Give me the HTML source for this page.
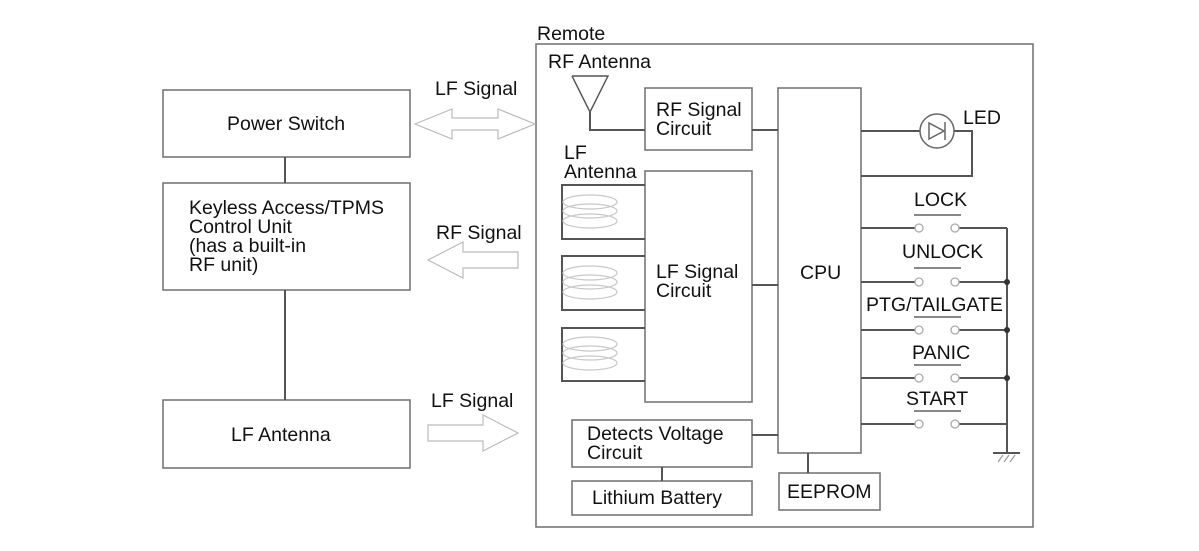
<!DOCTYPE html>
<html><head><meta charset="utf-8"><style>
body{margin:0;background:#fff}
svg{display:block}
text{font-family:"Liberation Sans",Arial,sans-serif;font-size:19.5px;fill:#111}
</style></head><body>
<svg width="1199" height="551" viewBox="0 0 1199 551" xmlns="http://www.w3.org/2000/svg">
<g fill="none" stroke="#777" stroke-width="1.6">
<rect x="163" y="90" width="247" height="67"/>
<rect x="163" y="183" width="247" height="107"/>
<rect x="163" y="400" width="247" height="68"/>
<rect x="536" y="44" width="497" height="483"/>
<rect x="645" y="88" width="107" height="62"/>
<rect x="645" y="171" width="107" height="231"/>
<rect x="778" y="88" width="83" height="365"/>
<rect x="572" y="420" width="180" height="47"/>
<rect x="572" y="481" width="180" height="34"/>
<rect x="779" y="473" width="101" height="37"/>
</g>
<g fill="none" stroke="#555" stroke-width="2">
<line x1="285" y1="157" x2="285" y2="183"/>
<line x1="285" y1="290" x2="285" y2="400"/>
<polyline points="572,76 590,112 608,76 572,76" stroke-width="1.4"/>
<polyline points="590,112 590,130 645,130"/>
<line x1="752" y1="130" x2="778" y2="130"/>
<line x1="752" y1="285" x2="778" y2="285"/>
<line x1="752" y1="435" x2="778" y2="435"/>
<line x1="662" y1="467" x2="662" y2="481"/>
<line x1="808" y1="453" x2="808" y2="473"/>
<polyline points="645,185 562,185 562,239 645,239"/>
<polyline points="645,256 562,256 562,310 645,310"/>
<polyline points="645,328 562,328 562,381 645,381"/>
<polyline points="861,131 920,131"/>
<polyline points="954,131 972,131 972,176 861,176"/>
<line x1="861" y1="228" x2="915" y2="228"/>
<line x1="959" y1="228" x2="1007" y2="228"/>
<line x1="861" y1="282" x2="915" y2="282"/>
<line x1="959" y1="282" x2="1007" y2="282"/>
<line x1="861" y1="330" x2="915" y2="330"/>
<line x1="959" y1="330" x2="1007" y2="330"/>
<line x1="861" y1="378" x2="915" y2="378"/>
<line x1="959" y1="378" x2="1007" y2="378"/>
<line x1="861" y1="424" x2="915" y2="424"/>
<line x1="959" y1="424" x2="1007" y2="424"/>
<line x1="1007" y1="228" x2="1007" y2="453"/>
<line x1="993" y1="453" x2="1020" y2="453"/>
</g>
<g stroke="#999" stroke-width="1.2">
<line x1="998" y1="462" x2="1003" y2="455"/><line x1="1004" y1="462" x2="1009" y2="455"/><line x1="1010" y1="462" x2="1015" y2="455"/>
</g>
<g fill="#333"><circle cx="1007" cy="282" r="3"/><circle cx="1007" cy="330" r="3"/><circle cx="1007" cy="378" r="3"/></g>
<g fill="none" stroke="#666" stroke-width="1.5">
<circle cx="937" cy="131" r="17"/>
<polygon points="929,123 929,139 944,131"/>
<line x1="945" y1="122" x2="945" y2="140"/>
</g>
<g fill="#fff" stroke="#aaa" stroke-width="1.3">
<circle cx="919" cy="228" r="4"/><circle cx="955" cy="228" r="4"/>
<circle cx="919" cy="282" r="4"/><circle cx="955" cy="282" r="4"/>
<circle cx="919" cy="330" r="4"/><circle cx="955" cy="330" r="4"/>
<circle cx="919" cy="378" r="4"/><circle cx="955" cy="378" r="4"/>
<circle cx="919" cy="424" r="4"/><circle cx="955" cy="424" r="4"/>
</g>
<g stroke="#888" stroke-width="2">
<line x1="914" y1="215" x2="961" y2="215"/>
<line x1="914" y1="268" x2="961" y2="268"/>
<line x1="914" y1="317" x2="961" y2="317"/>
<line x1="914" y1="365" x2="961" y2="365"/>
<line x1="914" y1="411" x2="961" y2="411"/>
</g>
<g fill="none" stroke="#bbb" stroke-width="1.2">
<polygon points="415,124 452,109 452,118 498,118 498,109 535,124 498,139 498,130 452,130 452,139"/>
<polygon points="428,260 463,242 463,252 518,252 518,268 463,268 463,278"/>
<polygon points="428,425 483,425 483,415 518,433 483,451 483,441 428,441"/>
<g stroke="#c8c8c8">
<ellipse cx="590" cy="202" rx="27" ry="7"/><ellipse cx="590" cy="211" rx="27" ry="7"/><ellipse cx="590" cy="221" rx="27" ry="7"/>
<ellipse cx="590" cy="273" rx="27" ry="7"/><ellipse cx="590" cy="282" rx="27" ry="7"/><ellipse cx="590" cy="292" rx="27" ry="7"/>
<ellipse cx="590" cy="344" rx="27" ry="7"/><ellipse cx="590" cy="353" rx="27" ry="7"/><ellipse cx="590" cy="363" rx="27" ry="7"/>
</g>
</g>
<text x="227" y="130">Power Switch</text>
<text x="189" y="214">Keyless Access/TPMS</text>
<text x="189" y="233">Control Unit</text>
<text x="189" y="252">(has a built-in</text>
<text x="189" y="271">RF unit)</text>
<text x="231" y="441">LF Antenna</text>
<text x="435" y="95">LF Signal</text>
<text x="436" y="239">RF Signal</text>
<text x="431" y="407">LF Signal</text>
<text x="537" y="40">Remote</text>
<text x="548" y="68">RF Antenna</text>
<text x="656" y="116">RF Signal</text>
<text x="656" y="135">Circuit</text>
<text x="564" y="159">LF</text>
<text x="564" y="178">Antenna</text>
<text x="656" y="278">LF Signal</text>
<text x="656" y="297">Circuit</text>
<text x="800" y="279">CPU</text>
<text x="587" y="440">Detects Voltage</text>
<text x="587" y="459">Circuit</text>
<text x="592" y="504">Lithium Battery</text>
<text x="787" y="498">EEPROM</text>
<text x="963" y="124">LED</text>
<text x="914" y="206">LOCK</text>
<text x="902" y="258">UNLOCK</text>
<text x="866" y="311">PTG/TAILGATE</text>
<text x="912" y="359">PANIC</text>
<text x="906" y="405">START</text>
</svg>
</body></html>
